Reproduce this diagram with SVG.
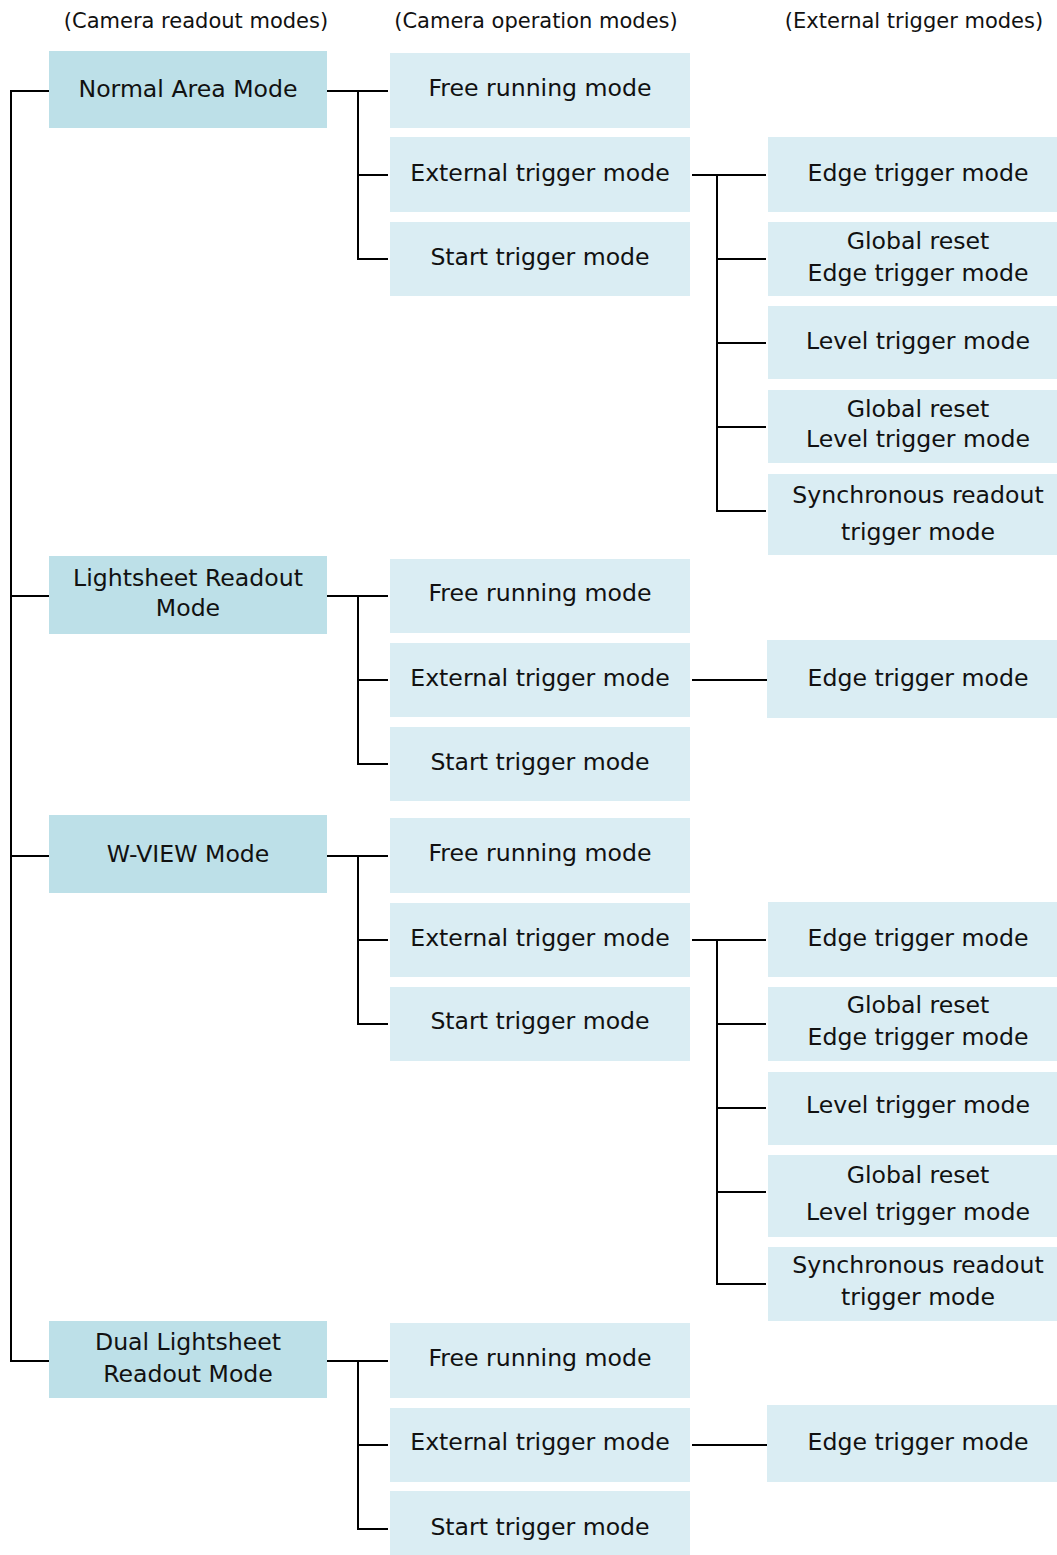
<svg xmlns="http://www.w3.org/2000/svg" width="1057" height="1555" viewBox="0 0 1057 1555">
<style>
text{font-family:"DejaVu Sans","Verdana",sans-serif;font-size:23.6px;fill:#111;text-anchor:middle}
.hdr{font-size:21px}
.r{fill:#bde0e8}
.o{fill:#daedf3}
.c path{fill:none;stroke:#000;stroke-width:2}
</style>
<rect width="1057" height="1555" fill="#fff"/>
<g id="headers">
<text class="hdr" x="196" y="28">(Camera readout modes)</text>
<text class="hdr" x="536" y="28">(Camera operation modes)</text>
<text class="hdr" x="914" y="28">(External trigger modes)</text>
</g>
<g class="c" id="connectors">
<path d="M49,91H11V1361H49M11,596H49M11,856H49"/>
<path d="M327,91H388M358,91V259H388M358,175H388"/>
<path d="M327,596H388M358,596V764H388M358,680H388"/>
<path d="M327,856H388M358,856V1024H388M358,940H388"/>
<path d="M327,1361H388M358,1361V1529H388M358,1445H388"/>
<path d="M692,175H766M717,175V511H766M717,259H766M717,343H766M717,427H766"/>
<path d="M692,680H767"/>
<path d="M692,940H766M717,940V1284H766M717,1024H766M717,1108H766M717,1192H766"/>
<path d="M692,1445H767"/>
</g>
<g id="normal-area"><rect class="r" x="49" y="51" width="278" height="77"/><text x="188" y="97">Normal Area Mode</text></g>
<g id="n-free"><rect class="o" x="390" y="53" width="300" height="75"/><text x="540" y="96">Free running mode</text></g>
<g id="n-ext"><rect class="o" x="390" y="137" width="300" height="75"/><text x="540" y="181">External trigger mode</text></g>
<g id="n-start"><rect class="o" x="390" y="222" width="300" height="74"/><text x="540" y="265">Start trigger mode</text></g>
<g id="n-edge"><rect class="o" x="768" y="137" width="289" height="75"/><text x="918" y="181">Edge trigger mode</text></g>
<g id="n-gr-edge"><rect class="o" x="768" y="222" width="289" height="74"/><text x="918" y="249">Global reset</text><text x="918" y="281">Edge trigger mode</text></g>
<g id="n-level"><rect class="o" x="768" y="306" width="289" height="73"/><text x="918" y="349">Level trigger mode</text></g>
<g id="n-gr-level"><rect class="o" x="768" y="390" width="289" height="73"/><text x="918" y="417">Global reset</text><text x="918" y="447">Level trigger mode</text></g>
<g id="n-sync"><rect class="o" x="768" y="474" width="289" height="81"/><text x="918" y="503">Synchronous readout</text><text x="918" y="540">trigger mode</text></g>

<g id="lightsheet"><rect class="r" x="49" y="556" width="278" height="78"/><text x="188" y="586">Lightsheet Readout</text><text x="188" y="616">Mode</text></g>
<g id="l-free"><rect class="o" x="390" y="559" width="300" height="74"/><text x="540" y="601">Free running mode</text></g>
<g id="l-ext"><rect class="o" x="390" y="643" width="300" height="74"/><text x="540" y="686">External trigger mode</text></g>
<g id="l-start"><rect class="o" x="390" y="727" width="300" height="74"/><text x="540" y="770">Start trigger mode</text></g>
<g id="l-edge"><rect class="o" x="767" y="640" width="290" height="78"/><text x="918" y="686">Edge trigger mode</text></g>

<g id="wview"><rect class="r" x="49" y="815" width="278" height="78"/><text x="188" y="862">W-VIEW Mode</text></g>
<g id="w-free"><rect class="o" x="390" y="818" width="300" height="75"/><text x="540" y="861">Free running mode</text></g>
<g id="w-ext"><rect class="o" x="390" y="903" width="300" height="74"/><text x="540" y="946">External trigger mode</text></g>
<g id="w-start"><rect class="o" x="390" y="987" width="300" height="74"/><text x="540" y="1029">Start trigger mode</text></g>
<g id="w-edge"><rect class="o" x="768" y="902" width="289" height="75"/><text x="918" y="946">Edge trigger mode</text></g>
<g id="w-gr-edge"><rect class="o" x="768" y="987" width="289" height="74"/><text x="918" y="1013">Global reset</text><text x="918" y="1045">Edge trigger mode</text></g>
<g id="w-level"><rect class="o" x="768" y="1072" width="289" height="73"/><text x="918" y="1113">Level trigger mode</text></g>
<g id="w-gr-level"><rect class="o" x="768" y="1155" width="289" height="82"/><text x="918" y="1183">Global reset</text><text x="918" y="1220">Level trigger mode</text></g>
<g id="w-sync"><rect class="o" x="768" y="1247" width="289" height="74"/><text x="918" y="1273">Synchronous readout</text><text x="918" y="1305">trigger mode</text></g>

<g id="dual"><rect class="r" x="49" y="1321" width="278" height="77"/><text x="188" y="1350">Dual Lightsheet</text><text x="188" y="1382">Readout Mode</text></g>
<g id="d-free"><rect class="o" x="390" y="1323" width="300" height="75"/><text x="540" y="1366">Free running mode</text></g>
<g id="d-ext"><rect class="o" x="390" y="1408" width="300" height="74"/><text x="540" y="1450">External trigger mode</text></g>
<g id="d-start"><rect class="o" x="390" y="1491" width="300" height="64"/><text x="540" y="1535">Start trigger mode</text></g>
<g id="d-edge"><rect class="o" x="767" y="1405" width="290" height="77"/><text x="918" y="1450">Edge trigger mode</text></g>
</svg>
